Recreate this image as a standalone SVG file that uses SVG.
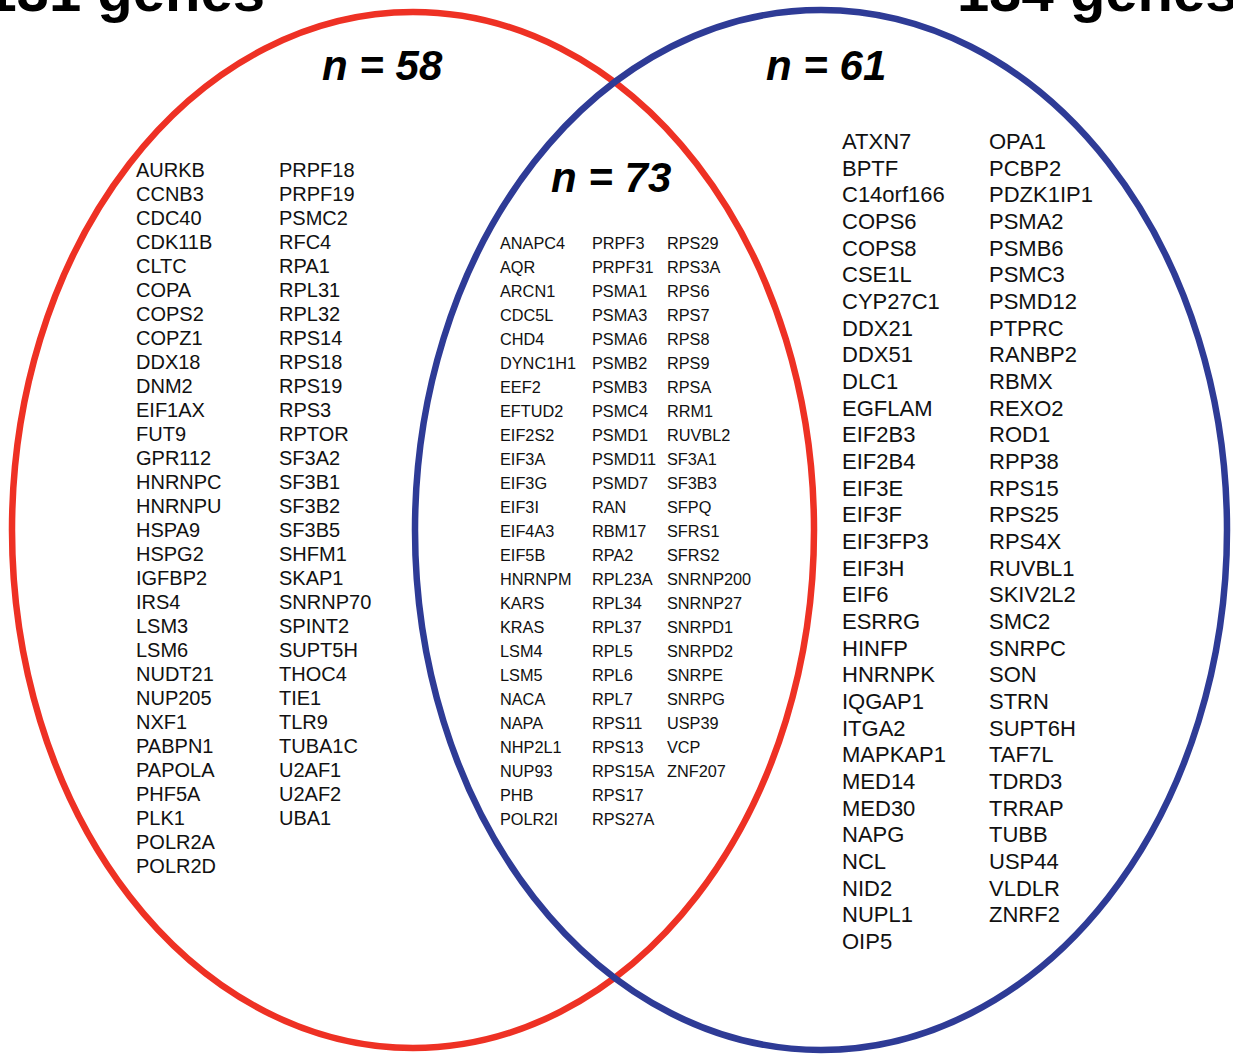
<svg xmlns="http://www.w3.org/2000/svg" width="1233" height="1057" viewBox="0 0 1233 1057">
<style>
.title{font-family:"Liberation Sans",Arial,sans-serif;font-weight:bold;font-size:58px;fill:#000}
.count{font-family:"Liberation Sans",Arial,sans-serif;font-weight:bold;font-style:italic;font-size:42px;fill:#000}
.gl{font-family:"Liberation Sans",Arial,sans-serif;font-size:20px;fill:#111}
.gm{font-family:"Liberation Sans",Arial,sans-serif;font-size:16.3px;fill:#111}
.gr{font-family:"Liberation Sans",Arial,sans-serif;font-size:22px;fill:#111}
.set{fill:none;stroke-width:6.5}
</style>
<rect width="1233" height="1057" fill="#fff"/>
<g id="set-left">
<ellipse class="set" cx="413" cy="530" rx="401" ry="518" stroke="#EE3124"/>
<text class="title" x="265" y="11" text-anchor="end">131 genes</text>
</g>
<g id="set-right">
<ellipse class="set" cx="821" cy="530" rx="406" ry="520" stroke="#2E3B96"/>
<text class="title" x="957" y="11">134 genes</text>
</g>
<g id="left-only">
<text class="count" x="322" y="80">n = 58</text>
<text class="gl" x="136" y="177"><tspan x="136" dy="0">AURKB</tspan><tspan x="136" dy="24">CCNB3</tspan><tspan x="136" dy="24">CDC40</tspan><tspan x="136" dy="24">CDK11B</tspan><tspan x="136" dy="24">CLTC</tspan><tspan x="136" dy="24">COPA</tspan><tspan x="136" dy="24">COPS2</tspan><tspan x="136" dy="24">COPZ1</tspan><tspan x="136" dy="24">DDX18</tspan><tspan x="136" dy="24">DNM2</tspan><tspan x="136" dy="24">EIF1AX</tspan><tspan x="136" dy="24">FUT9</tspan><tspan x="136" dy="24">GPR112</tspan><tspan x="136" dy="24">HNRNPC</tspan><tspan x="136" dy="24">HNRNPU</tspan><tspan x="136" dy="24">HSPA9</tspan><tspan x="136" dy="24">HSPG2</tspan><tspan x="136" dy="24">IGFBP2</tspan><tspan x="136" dy="24">IRS4</tspan><tspan x="136" dy="24">LSM3</tspan><tspan x="136" dy="24">LSM6</tspan><tspan x="136" dy="24">NUDT21</tspan><tspan x="136" dy="24">NUP205</tspan><tspan x="136" dy="24">NXF1</tspan><tspan x="136" dy="24">PABPN1</tspan><tspan x="136" dy="24">PAPOLA</tspan><tspan x="136" dy="24">PHF5A</tspan><tspan x="136" dy="24">PLK1</tspan><tspan x="136" dy="24">POLR2A</tspan><tspan x="136" dy="24">POLR2D</tspan></text>
<text class="gl" x="279" y="177"><tspan x="279" dy="0">PRPF18</tspan><tspan x="279" dy="24">PRPF19</tspan><tspan x="279" dy="24">PSMC2</tspan><tspan x="279" dy="24">RFC4</tspan><tspan x="279" dy="24">RPA1</tspan><tspan x="279" dy="24">RPL31</tspan><tspan x="279" dy="24">RPL32</tspan><tspan x="279" dy="24">RPS14</tspan><tspan x="279" dy="24">RPS18</tspan><tspan x="279" dy="24">RPS19</tspan><tspan x="279" dy="24">RPS3</tspan><tspan x="279" dy="24">RPTOR</tspan><tspan x="279" dy="24">SF3A2</tspan><tspan x="279" dy="24">SF3B1</tspan><tspan x="279" dy="24">SF3B2</tspan><tspan x="279" dy="24">SF3B5</tspan><tspan x="279" dy="24">SHFM1</tspan><tspan x="279" dy="24">SKAP1</tspan><tspan x="279" dy="24">SNRNP70</tspan><tspan x="279" dy="24">SPINT2</tspan><tspan x="279" dy="24">SUPT5H</tspan><tspan x="279" dy="24">THOC4</tspan><tspan x="279" dy="24">TIE1</tspan><tspan x="279" dy="24">TLR9</tspan><tspan x="279" dy="24">TUBA1C</tspan><tspan x="279" dy="24">U2AF1</tspan><tspan x="279" dy="24">U2AF2</tspan><tspan x="279" dy="24">UBA1</tspan></text>
</g>
<g id="overlap">
<text class="count" x="551" y="192">n = 73</text>
<text class="gm" x="500" y="249"><tspan x="500" dy="0">ANAPC4</tspan><tspan x="500" dy="24">AQR</tspan><tspan x="500" dy="24">ARCN1</tspan><tspan x="500" dy="24">CDC5L</tspan><tspan x="500" dy="24">CHD4</tspan><tspan x="500" dy="24">DYNC1H1</tspan><tspan x="500" dy="24">EEF2</tspan><tspan x="500" dy="24">EFTUD2</tspan><tspan x="500" dy="24">EIF2S2</tspan><tspan x="500" dy="24">EIF3A</tspan><tspan x="500" dy="24">EIF3G</tspan><tspan x="500" dy="24">EIF3I</tspan><tspan x="500" dy="24">EIF4A3</tspan><tspan x="500" dy="24">EIF5B</tspan><tspan x="500" dy="24">HNRNPM</tspan><tspan x="500" dy="24">KARS</tspan><tspan x="500" dy="24">KRAS</tspan><tspan x="500" dy="24">LSM4</tspan><tspan x="500" dy="24">LSM5</tspan><tspan x="500" dy="24">NACA</tspan><tspan x="500" dy="24">NAPA</tspan><tspan x="500" dy="24">NHP2L1</tspan><tspan x="500" dy="24">NUP93</tspan><tspan x="500" dy="24">PHB</tspan><tspan x="500" dy="24">POLR2I</tspan></text>
<text class="gm" x="592" y="249"><tspan x="592" dy="0">PRPF3</tspan><tspan x="592" dy="24">PRPF31</tspan><tspan x="592" dy="24">PSMA1</tspan><tspan x="592" dy="24">PSMA3</tspan><tspan x="592" dy="24">PSMA6</tspan><tspan x="592" dy="24">PSMB2</tspan><tspan x="592" dy="24">PSMB3</tspan><tspan x="592" dy="24">PSMC4</tspan><tspan x="592" dy="24">PSMD1</tspan><tspan x="592" dy="24">PSMD11</tspan><tspan x="592" dy="24">PSMD7</tspan><tspan x="592" dy="24">RAN</tspan><tspan x="592" dy="24">RBM17</tspan><tspan x="592" dy="24">RPA2</tspan><tspan x="592" dy="24">RPL23A</tspan><tspan x="592" dy="24">RPL34</tspan><tspan x="592" dy="24">RPL37</tspan><tspan x="592" dy="24">RPL5</tspan><tspan x="592" dy="24">RPL6</tspan><tspan x="592" dy="24">RPL7</tspan><tspan x="592" dy="24">RPS11</tspan><tspan x="592" dy="24">RPS13</tspan><tspan x="592" dy="24">RPS15A</tspan><tspan x="592" dy="24">RPS17</tspan><tspan x="592" dy="24">RPS27A</tspan></text>
<text class="gm" x="667" y="249"><tspan x="667" dy="0">RPS29</tspan><tspan x="667" dy="24">RPS3A</tspan><tspan x="667" dy="24">RPS6</tspan><tspan x="667" dy="24">RPS7</tspan><tspan x="667" dy="24">RPS8</tspan><tspan x="667" dy="24">RPS9</tspan><tspan x="667" dy="24">RPSA</tspan><tspan x="667" dy="24">RRM1</tspan><tspan x="667" dy="24">RUVBL2</tspan><tspan x="667" dy="24">SF3A1</tspan><tspan x="667" dy="24">SF3B3</tspan><tspan x="667" dy="24">SFPQ</tspan><tspan x="667" dy="24">SFRS1</tspan><tspan x="667" dy="24">SFRS2</tspan><tspan x="667" dy="24">SNRNP200</tspan><tspan x="667" dy="24">SNRNP27</tspan><tspan x="667" dy="24">SNRPD1</tspan><tspan x="667" dy="24">SNRPD2</tspan><tspan x="667" dy="24">SNRPE</tspan><tspan x="667" dy="24">SNRPG</tspan><tspan x="667" dy="24">USP39</tspan><tspan x="667" dy="24">VCP</tspan><tspan x="667" dy="24">ZNF207</tspan></text>
</g>
<g id="right-only">
<text class="count" x="766" y="80">n = 61</text>
<text class="gr" x="842" y="149"><tspan x="842" dy="0">ATXN7</tspan><tspan x="842" dy="26.667">BPTF</tspan><tspan x="842" dy="26.667">C14orf166</tspan><tspan x="842" dy="26.667">COPS6</tspan><tspan x="842" dy="26.667">COPS8</tspan><tspan x="842" dy="26.667">CSE1L</tspan><tspan x="842" dy="26.667">CYP27C1</tspan><tspan x="842" dy="26.667">DDX21</tspan><tspan x="842" dy="26.667">DDX51</tspan><tspan x="842" dy="26.667">DLC1</tspan><tspan x="842" dy="26.667">EGFLAM</tspan><tspan x="842" dy="26.667">EIF2B3</tspan><tspan x="842" dy="26.667">EIF2B4</tspan><tspan x="842" dy="26.667">EIF3E</tspan><tspan x="842" dy="26.667">EIF3F</tspan><tspan x="842" dy="26.667">EIF3FP3</tspan><tspan x="842" dy="26.667">EIF3H</tspan><tspan x="842" dy="26.667">EIF6</tspan><tspan x="842" dy="26.667">ESRRG</tspan><tspan x="842" dy="26.667">HINFP</tspan><tspan x="842" dy="26.667">HNRNPK</tspan><tspan x="842" dy="26.667">IQGAP1</tspan><tspan x="842" dy="26.667">ITGA2</tspan><tspan x="842" dy="26.667">MAPKAP1</tspan><tspan x="842" dy="26.667">MED14</tspan><tspan x="842" dy="26.667">MED30</tspan><tspan x="842" dy="26.667">NAPG</tspan><tspan x="842" dy="26.667">NCL</tspan><tspan x="842" dy="26.667">NID2</tspan><tspan x="842" dy="26.667">NUPL1</tspan><tspan x="842" dy="26.667">OIP5</tspan></text>
<text class="gr" x="989" y="149"><tspan x="989" dy="0">OPA1</tspan><tspan x="989" dy="26.667">PCBP2</tspan><tspan x="989" dy="26.667">PDZK1IP1</tspan><tspan x="989" dy="26.667">PSMA2</tspan><tspan x="989" dy="26.667">PSMB6</tspan><tspan x="989" dy="26.667">PSMC3</tspan><tspan x="989" dy="26.667">PSMD12</tspan><tspan x="989" dy="26.667">PTPRC</tspan><tspan x="989" dy="26.667">RANBP2</tspan><tspan x="989" dy="26.667">RBMX</tspan><tspan x="989" dy="26.667">REXO2</tspan><tspan x="989" dy="26.667">ROD1</tspan><tspan x="989" dy="26.667">RPP38</tspan><tspan x="989" dy="26.667">RPS15</tspan><tspan x="989" dy="26.667">RPS25</tspan><tspan x="989" dy="26.667">RPS4X</tspan><tspan x="989" dy="26.667">RUVBL1</tspan><tspan x="989" dy="26.667">SKIV2L2</tspan><tspan x="989" dy="26.667">SMC2</tspan><tspan x="989" dy="26.667">SNRPC</tspan><tspan x="989" dy="26.667">SON</tspan><tspan x="989" dy="26.667">STRN</tspan><tspan x="989" dy="26.667">SUPT6H</tspan><tspan x="989" dy="26.667">TAF7L</tspan><tspan x="989" dy="26.667">TDRD3</tspan><tspan x="989" dy="26.667">TRRAP</tspan><tspan x="989" dy="26.667">TUBB</tspan><tspan x="989" dy="26.667">USP44</tspan><tspan x="989" dy="26.667">VLDLR</tspan><tspan x="989" dy="26.667">ZNRF2</tspan></text>
</g>
</svg>
